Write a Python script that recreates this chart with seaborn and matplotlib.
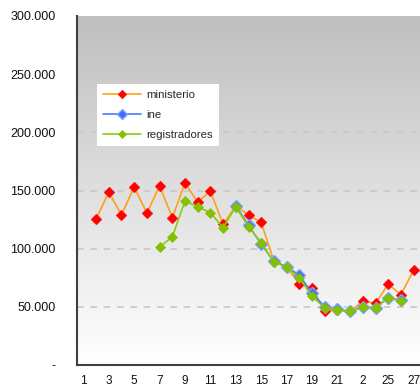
import numpy as np
import pandas as pd
import matplotlib
matplotlib.use("Agg")
import matplotlib.pyplot as plt
from matplotlib.ticker import FuncFormatter, FixedLocator
import seaborn as sns

# Weekly series (period number 1..27)
periods = list(range(1, 28))
ministerio = [np.nan, 125500, 148500, 129000, 153000, 130500, 154000, 126500, 156500, 140000,
              149500, 121000, 136500, 129000, 122500, 89500, 84000, 70000, 66000, 46500,
              47500, 46000, 55000, 53000, 69500, 60500, 81500]
ine = [np.nan] * 12 + [137000, 120000, 104000, 89000, 84500, 77000, 62000, 50000,
                       48000, 46000, 50000, 49000, 58000, 55500, np.nan]
registradores = [np.nan] * 6 + [101500, 110000, 141000, 136000, 131000, 118000,
                                136000, 119000, 105000, 88500, 84000, 75000, 59000, 49000,
                                47500, 46000, 50000, 49000, 58000, 55000, np.nan]
x_labels = ["1", "3", "5", "7", "9", "11", "13", "15", "17", "19", "21", "2", "25", "27"]
x_label_pos = [1, 3, 5, 7, 9, 11, 13, 15, 17, 19, 21, 23, 25, 27]

df = pd.DataFrame({"periodo": periods, "ministerio": ministerio,
                   "ine": ine, "registradores": registradores})

sns.set_style("white")
plt.rcParams["font.family"] = ["Liberation Sans", "DejaVu Sans"]

fig = plt.figure(figsize=(4.2, 3.9), dpi=100)
ax = fig.add_axes([77 / 420, 25 / 390, 343 / 420, 349 / 390])
ax.set_xlim(0.5, 27.5)
ax.set_ylim(0, 300000)

# vertical grey-to-white gradient behind the plot
grad = np.linspace(0, 1, 256).reshape(-1, 1)
cmap = matplotlib.colors.LinearSegmentedColormap.from_list("bg", ["#ffffff", "#bfbfbf"])
ax.imshow(grad, aspect="auto", cmap=cmap, origin="lower",
          extent=[0.5, 27.5, 0, 300000], zorder=0)

for yv in [50000, 100000, 150000, 200000, 250000]:
    ax.axhline(yv, color="#c8c8c8", lw=1.2, ls=(0, (4, 4)), zorder=1)

sns.lineplot(data=df, x="periodo", y="ministerio", ax=ax, color="#ff9f1a", lw=1.2,
             marker="D", markersize=5.5, markerfacecolor="#ff0000", markeredgecolor="#ff1010",
             markeredgewidth=0.8, label="ministerio", zorder=3)
sns.lineplot(data=df, x="periodo", y="ine", ax=ax, color="#4a7cff", lw=1.2,
             marker="D", markersize=6.5, markerfacecolor="#3f6cff", markeredgecolor="#7fa4ff",
             markeredgewidth=1.0, label="ine", zorder=4)
sns.lineplot(data=df, x="periodo", y="registradores", ax=ax, color="#8ccc10", lw=1.2,
             marker="D", markersize=5.2, markerfacecolor="#84c000", markeredgecolor="#84c000",
             markeredgewidth=0.5, label="registradores", zorder=5)

ax.set_xlabel("")
ax.set_ylabel("")

ax.yaxis.set_major_locator(FixedLocator([0, 50000, 100000, 150000, 200000, 250000, 300000]))
ax.yaxis.set_major_formatter(FuncFormatter(
    lambda v, _: "-" if v == 0 else f"{int(v):,}".replace(",", ".")))
ax.set_xticks(np.arange(0.5, 28.0, 1.0))
ax.set_xticklabels([])
ax.set_xticks(x_label_pos, minor=True)
ax.set_xticklabels(x_labels, minor=True)
ax.tick_params(axis="x", which="major", length=4, width=1.2, color="#303030", direction="out")
ax.tick_params(axis="x", which="minor", length=0, pad=7, labelsize=8.5, labelcolor="#111111")
ax.tick_params(axis="y", length=4, width=1.2, color="#303030", direction="out",
               labelsize=9, labelcolor="#111111", pad=11.5)

for s in ["top", "right"]:
    ax.spines[s].set_visible(False)
for s in ["left", "bottom"]:
    ax.spines[s].set_color("#404040")
    ax.spines[s].set_linewidth(1.5)

leg = ax.legend(loc="upper left", bbox_to_anchor=(20 / 343, 1 - 68 / 349), frameon=True,
                fancybox=False, framealpha=1, edgecolor="white", fontsize=8.2,
                handlelength=3.3, handletextpad=0.45, borderpad=0.55, labelspacing=0.85,
                borderaxespad=0, markerscale=0.8)
leg.get_frame().set_linewidth(0)

fig.savefig("out.png", dpi=100)
